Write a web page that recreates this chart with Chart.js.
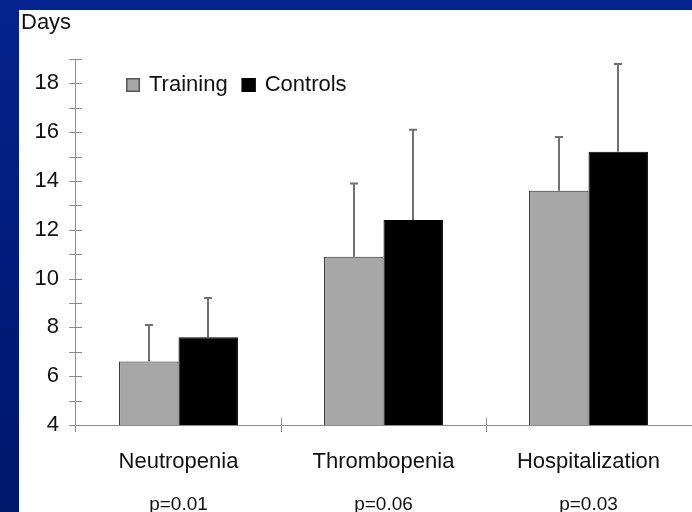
<!DOCTYPE html>
<html><head><meta charset="utf-8">
<script src="https://cdn.jsdelivr.net/npm/chart.js@4"></script>
<style>
html,body{margin:0;padding:0;width:692px;height:512px;overflow:hidden;background:linear-gradient(180deg,#05248f 0%,#011c7c 50%,#00176a 100%);}
#panel{position:absolute;left:19px;top:10px;width:673px;height:502px;background:#fff;}
canvas{display:block;}
</style></head><body>
<div id="panel"><canvas id="c" width="673" height="502"></canvas></div>
<script>
const categories = ['Neutropenia', 'Thrombopenia', 'Hospitalization'];
const pValues = ['p=0.01', 'p=0.06', 'p=0.03'];
const seriesNames = ['Training', 'Controls'];
const trainingMeans = [6.6, 10.9, 13.6];
const trainingSD = [1.5, 3.0, 2.2];
const controlsMeans = [7.6, 12.4, 15.2];
const controlsSD = [1.6, 3.7, 3.6];
const yTickLabels = [4, 6, 8, 10, 12, 14, 16, 18];
const yTitle = 'Days';

const FONT = '"Liberation Sans", Arial, sans-serif';

const errorBars = {
  id: 'errorBars',
  afterDatasetsDraw(chart) {
    const {ctx} = chart;
    const y = chart.scales.y;
    ctx.save();
    ctx.strokeStyle = '#707070';
    ctx.lineWidth = 2;
    chart.data.datasets.forEach((ds, i) => {
      const meta = chart.getDatasetMeta(i);
      meta.data.forEach((bar, j) => {
        const topPx = y.getPixelForValue(ds.data[j] + ds.sd[j]);
        const x = Math.round(bar.x);
        ctx.beginPath();
        ctx.moveTo(x, bar.y);
        ctx.lineTo(x, topPx);
        ctx.moveTo(x - 4, topPx);
        ctx.lineTo(x + 4, topPx);
        ctx.stroke();
      });
    });
    ctx.restore();
  }
};

const crossTicks = {
  id: 'crossTicks',
  afterDraw(chart) {
    const {ctx} = chart;
    const xs = chart.scales.x, ys = chart.scales.y;
    const axX = Math.round(xs.left);
    ctx.save();
    ctx.fillStyle = '#8c8c8c';
    ctx.fillRect(axX - 1, Math.round(ys.top), 1, Math.round(ys.bottom - ys.top) + 7);
    ctx.strokeStyle = '#8c8c8c';
    ctx.lineWidth = 1;
    ctx.beginPath();
    ys.ticks.forEach(t => {
      const py = Math.round(ys.getPixelForValue(t.value)) + 0.5;
      ctx.moveTo(axX - 7, py);
      ctx.lineTo(axX + 6, py);
    });
    const n = categories.length;
    const w = (xs.right - xs.left) / n;
    for (let i = 1; i < n; i++) {
      const px = Math.round(xs.left + i * w) + 0.5;
      ctx.moveTo(px, ys.bottom - 7);
      ctx.lineTo(px, ys.bottom + 7);
    }
    ctx.stroke();
    ctx.restore();
  }
};

const customLegend = {
  id: 'customLegend',
  afterDraw(chart) {
    const {ctx, chartArea} = chart;
    ctx.save();
    ctx.font = '22px ' + FONT;
    ctx.textBaseline = 'middle';
    let x = chartArea.left + 50;
    const yMid = chartArea.top + 26;
    chart.data.datasets.forEach(ds => {
      ctx.fillStyle = ds.backgroundColor;
      ctx.fillRect(x, yMid - 7, 14, 14);
      ctx.strokeStyle = ds.legendBorder;
      ctx.lineWidth = 1.5;
      ctx.strokeRect(x + 0.75, yMid - 6.25, 12.5, 12.5);
      x += 14 + 9;
      ctx.fillStyle = '#111';
      ctx.fillText(ds.label, x, yMid);
      x += ctx.measureText(ds.label).width + 14;
    });
    ctx.restore();
  }
};

new Chart(document.getElementById('c'), {
  type: 'bar',
  data: {
    labels: categories,
    datasets: [
      { label: seriesNames[0], data: trainingMeans, sd: trainingSD, backgroundColor: '#a7a7a7', borderColor: '#2a2a2a', borderWidth: 1, legendBorder: '#555', xAxisID: 'x' },
      { label: seriesNames[1], data: controlsMeans, sd: controlsSD, backgroundColor: '#000000', borderColor: '#000000', borderWidth: 1, legendBorder: '#000', xAxisID: 'x' }
    ]
  },
  options: {
    responsive: false,
    animation: false,
    layout: { padding: { left: 2, right: 1, top: 0, bottom: 0 } },
    datasets: { bar: { categoryPercentage: 0.58, barPercentage: 1.0 } },
    plugins: {
      legend: { display: false },
      tooltip: { enabled: false },
      title: {
        display: true, text: yTitle, align: 'start', color: '#111',
        font: { family: FONT, size: 22, weight: 'normal' },
        padding: { top: 0, bottom: 22.6 }
      }
    },
    scales: {
      x: {
        type: 'category', position: 'bottom', weight: 0,
        grid: { display: false, drawTicks: false },
        border: { display: true, color: '#8c8c8c', width: 1 },
        ticks: { color: '#111', font: { family: FONT, size: 22 }, padding: 23.8, maxRotation: 0, autoSkip: false },
        afterFit(s) { s.height = 55; }
      },
      x2: {
        type: 'category', position: 'bottom', weight: 1, labels: pValues, offset: true,
        grid: { display: false, drawTicks: false },
        border: { display: false },
        ticks: { color: '#111', font: { family: FONT, size: 19 }, padding: 13, maxRotation: 0, autoSkip: false },
        afterFit(s) { s.height = 32; }
      },
      y: {
        min: 4, max: 19,
        grid: { display: false, drawTicks: false },
        border: { display: false },
        ticks: {
          stepSize: 1, autoSkip: false, color: '#111', padding: 17,
          font: { family: FONT, size: 22 },
          callback: v => yTickLabels.includes(v) ? String(v) : ''
        },
        afterFit(s) { s.width = 55; }
      }
    }
  },
  plugins: [errorBars, crossTicks, customLegend]
});
</script>
</body></html>
